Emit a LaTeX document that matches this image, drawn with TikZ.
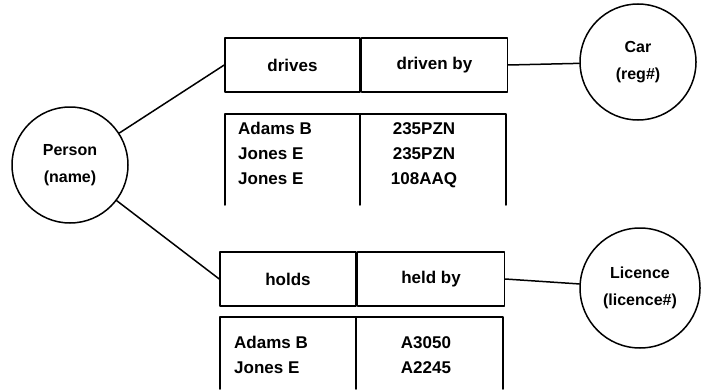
\documentclass[tikz,border=0pt]{standalone}
\usepackage{fontspec}
\setmainfont{Liberation Sans}

\begin{document}
\begin{tikzpicture}[line cap=round,line join=round,x=1pt,y=1pt,
  entity/.style={circle,draw,line width=1.5pt,minimum size=116pt,inner sep=0pt,align=center,font=\fontsize{16}{27}\selectfont\bfseries},
  relbox/.style={rectangle,draw,line width=1.5pt,minimum height=54pt,inner sep=0pt,font=\fontsize{17}{20}\selectfont\bfseries},
  rows/.style={align=left,inner sep=0pt,font=\fontsize{17}{25}\selectfont\bfseries}]
  \useasboundingbox (0,0) rectangle (703,389);
  % entities
  \node[entity] (person) at (70,224) {Person\\(name)};
  \node[entity] (car) at (638,327) {Car\\(reg\#)};
  \node[entity,minimum size=120pt] (licence) at (640,101) {Licence\\(licence\#)};
  % relationship boxes
  \node[relbox,minimum width=135pt] (drives) at (292.5,324) {drives};
  \node[relbox,minimum width=146pt,anchor=west] (drivenby) at (drives.east) {driven by};
  \node[relbox,minimum width=136pt] (holds) at (288,110) {holds};
  \node[relbox,minimum width=147pt,anchor=west] (heldby) at (holds.east) {held by};
  % table frames, open at the bottom
  \draw[line width=1.5pt] (225,184) -- (225,275) -- (506,275) -- (506,184);
  \draw[line width=1.5pt] (360,275) -- (360,184);
  \draw[line width=1.5pt] (220,0) -- (220,72) -- (503,72) -- (503,0);
  \draw[line width=1.5pt] (356,72) -- (356,0);
  % table contents
  \node[rows,anchor=north west] (drvnames) at (238,267) {Adams B\\Jones E\\Jones E};
  \node[rows,anchor=north,align=center] (drvregs) at (424,267) {235PZN\\235PZN\\108AAQ};
  \node[rows,anchor=north west] (hldnames) at (234,53) {Adams B\\Jones E};
  \node[rows,anchor=north,align=center] (hldlics) at (426,53) {A3050\\A2245};
  % links
  \draw[line width=1.5pt] (person) -- (drives.west);
  \draw[line width=1.5pt] (person) -- (holds.west);
  \draw[line width=1.5pt] (drivenby.east) -- (car);
  \draw[line width=1.5pt] (heldby.east) -- (licence);
\end{tikzpicture}
\end{document}
